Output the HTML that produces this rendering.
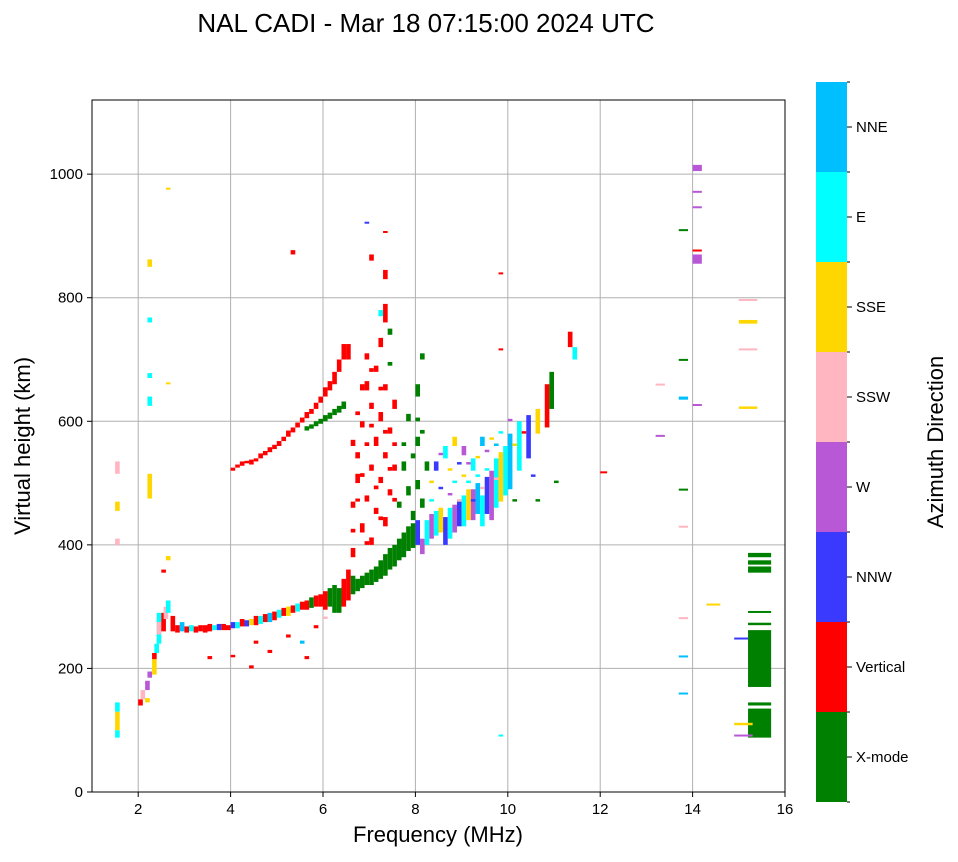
<!DOCTYPE html>
<html><head><meta charset="utf-8"><style>
body{margin:0;background:#fff;}
svg text{font-family:"Liberation Sans",sans-serif;fill:#000;}
</style></head><body>
<svg width="958" height="857" xmlns="http://www.w3.org/2000/svg" id="chart">
<text x="426" y="32" font-size="26" text-anchor="middle">NAL CADI - Mar 18 07:15:00 2024 UTC</text>
<g id="grid"></g>
<g id="marks"></g>
<rect x="92" y="100" width="693" height="692" fill="none" stroke="#000" stroke-width="1"/>
<g id="axes"></g>
<text x="438" y="842" font-size="22" text-anchor="middle">Frequency (MHz)</text>
<text transform="translate(30,446) rotate(-90)" font-size="22" text-anchor="middle">Virtual height (km)</text>
<g id="cbar"></g>
<text transform="translate(943,442) rotate(-90)" font-size="22" text-anchor="middle">Azimuth Direction</text>
</svg>
<script>
const colorNames=["X-mode","Vertical","NNW","W","SSW","SSE","E","NNE"];
const colorValues=["#008000","#ff0000","#3a3aff","#b858d6","#ffb6c1","#ffd700","#00ffff","#00bfff"];
const xTicks=[2,4,6,8,10,12,14,16];
const yTicks=[0,200,400,600,800,1000];
// echoes: [freq MHz, hLow km, hHigh km, colorIndex, widthMHz?]
const echoes=[
[1.5,88,100,6],[1.5,100,130,5],[1.5,130,145,6],[1.5,400,410,4],[1.5,455,470,5],[1.5,515,535,4],
[2.0,140,150,1],[2.05,150,165,4],[2.15,165,180,3],[2.15,145,152,5],[2.2,185,195,3],[2.3,190,215,5],[2.3,215,225,1],[2.35,225,240,6],[2.4,240,290,6],[2.4,255,275,4],[2.5,260,290,1],[2.55,280,300,4],[2.6,290,310,6],[2.7,260,285,1],[2.8,258,270,1],[2.9,260,275,7],[3.0,258,268,1],[3.1,260,270,6],[3.2,258,268,1],[3.3,260,270,1],[3.4,258,270,1],[3.5,260,272,1],[3.6,262,270,6],[3.7,262,272,2],[3.8,262,272,1],[3.9,262,270,1],[4.0,265,275,2],[4.1,265,275,6],[4.2,268,280,1],[4.3,268,278,2],[4.4,270,280,5],[4.5,270,285,1],[4.6,272,285,6],[4.7,275,288,1],[4.8,275,290,7],[4.9,278,292,1],[5.0,282,295,6],[5.1,285,298,1],[5.2,285,300,5],[5.3,290,302,1],[5.4,292,305,6],[5.5,295,308,1],[5.6,295,310,1],[5.7,298,315,0],[5.8,300,318,1],[5.9,300,320,1],[6.0,295,325,1],[6.1,300,330,0],[6.2,290,335,0],[6.3,290,330,0],[6.4,300,345,1],[6.5,310,360,1],[6.6,320,350,0],[6.7,325,345,0],[6.8,330,350,0],[6.9,335,355,0],[7.0,335,360,0],[7.1,340,365,0],[7.2,345,375,0],[7.3,350,385,0],[7.4,360,395,0],[7.5,365,400,0],[7.6,375,410,0],[7.7,380,420,0],[7.8,390,430,0],[7.9,395,435,0],[8.0,400,440,2],[8.1,385,410,3],[8.2,400,440,6],[8.3,410,450,3],[8.4,415,455,6],[8.5,420,460,5],[8.6,400,445,2],[8.7,410,460,6],[8.8,420,465,3],[8.9,430,470,2],[9.0,430,480,6],[9.1,440,490,5],[9.2,440,490,3],[9.3,450,500,7],[9.4,430,480,6],[9.5,450,510,2],[9.6,440,520,3],[9.7,460,540,6],[9.8,470,550,5],[9.9,480,560,6],[10.0,490,580,7],[10.2,520,600,6],[10.4,540,610,2],[10.6,580,620,5],[10.8,590,660,1],[10.9,620,680,0],[11.3,720,745,1],[11.4,700,720,6],
[8.6,540,560,6],[8.8,560,575,5],[9.0,545,560,3],[9.2,520,540,6],[9.4,560,575,7],[8.4,520,535,2],
[8.3,500,504,5],[8.3,470,474,6],[8.5,545,549,3],[8.5,490,494,2],[8.7,520,524,5],[8.7,480,484,3],[8.8,500,504,6],[8.9,530,534,2],[8.9,470,474,4],[9.0,510,514,5],[9.1,500,504,6],[9.1,530,534,3],[9.2,470,474,2],[9.3,540,544,5],[9.3,510,514,6],[9.4,490,494,4],[9.5,520,524,6],[9.5,550,554,3],[9.6,570,574,5],[9.7,560,564,7],[9.7,505,509,4],[9.8,580,584,6],[10.0,600,604,3],[10.1,560,564,5],[10.2,540,544,6],[10.3,580,584,1],[10.1,470,474,0],[10.6,470,474,0],[11.0,500,504,0],[10.5,510,514,2],
[4.0,520,525,1],[4.1,525,530,1],[4.2,528,535,1],[4.4,530,538,1],[4.6,540,548,1],[4.8,550,558,1],[5.0,560,568,1],[5.2,575,585,1],[5.4,590,598,1],[5.6,605,615,1],[5.8,620,630,1],[6.0,640,655,1],[6.2,660,680,1],[6.3,680,700,1],[6.4,700,725,1],[6.5,700,725,1],
[4.3,532,536,1],[4.5,535,540,1],[4.7,545,552,1],[4.9,555,562,1],[5.1,568,575,1],[5.3,582,590,1],[5.5,598,606,1],[5.7,612,620,1],[5.9,630,640,1],[6.1,650,665,1],
[5.6,585,592,0],[5.8,592,600,0],[6.0,600,610,0],[6.2,610,620,0],[6.4,620,632,0],[5.7,588,595,0],[5.9,596,604,0],[6.1,604,614,0],[6.3,614,625,0],
[6.6,380,395,1],[6.6,460,470,1],[6.7,500,515,1],[6.7,540,550,1],[6.8,420,435,1],[6.8,590,600,1],[6.9,470,480,1],[6.9,650,665,1],[6.9,700,710,1],[7.0,400,412,1],[7.0,520,530,1],[7.0,620,630,1],[7.0,860,870,1],[7.1,450,460,1],[7.1,560,575,1],[7.1,680,690,1],[7.2,500,510,1],[7.2,600,615,1],[7.2,720,735,1],[7.3,430,445,1],[7.3,540,550,1],[7.3,650,660,1],[7.3,760,790,1],[7.3,830,845,1],[7.4,480,490,1],[7.4,580,590,1],[7.5,520,530,1],[7.5,620,635,1],[6.6,560,570,1],[6.8,650,660,1],[7.2,770,780,6],[7.4,740,750,0],
[6.6,420,426,1],[6.7,470,475,1],[6.8,510,516,1],[6.9,560,566,1],[7.0,590,596,1],[7.1,490,496,1],[7.2,440,446,1],[7.3,580,586,1],[7.4,520,526,1],[7.5,560,566,1],[6.9,400,406,1],[7.0,680,686,1],[7.2,650,656,1],[7.4,690,696,0],[7.5,470,476,1],[6.7,610,616,1],
[7.6,460,470,0],[7.7,520,535,0],[7.8,480,495,0],[7.8,600,612,0],[7.9,440,455,0],[8.0,560,575,0],[8.0,640,660,0],[8.1,700,710,0],[8.0,490,505,0],[8.1,460,475,0],[8.2,520,535,0],[7.9,540,548,0],[8.0,600,606,0],[7.7,560,566,0],[8.1,580,586,0],
[4.5,240,245,1],[4.8,225,230,1],[5.2,250,255,1],[5.5,240,245,7],[5.8,265,270,1],[3.5,215,220,1],[4.0,218,222,1],[4.4,200,205,1],[5.6,215,220,1],[6.0,280,284,4],
[15.2,88,135,0,0.5],[15.2,170,262,0,0.5],[15.2,355,365,0,0.5],[15.2,368,375,0,0.5],[15.2,380,387,0,0.5],[15.2,290,293,0,0.5],[15.2,140,145,0,0.5],[15.2,270,274,0,0.5],
[14.9,90,93,3,0.4],[14.9,108,112,5,0.4],[15.0,620,624,5,0.4],[15.0,715,718,4,0.4],[15.0,758,764,5,0.4],[15.0,795,798,4,0.4],[14.9,247,250,2,0.3],[14.3,302,305,5,0.3],
[13.7,158,161,7,0.2],[13.7,218,221,7,0.2],[13.7,280,283,4,0.2],[13.7,428,431,4,0.2],[13.7,488,491,0,0.2],[13.7,635,640,7,0.2],[13.7,698,701,0,0.2],[13.7,908,911,0,0.2],[14.0,625,628,3,0.2],[14.0,855,870,3,0.2],[14.0,875,878,1,0.2],[14.0,945,948,3,0.2],[14.0,970,973,3,0.2],[14.0,1005,1015,3,0.2],[13.2,575,578,3,0.2],[13.2,658,661,4,0.2],[12.0,516,519,1,0.15],
[9.8,90,93,6],[9.8,838,841,1],[9.8,715,718,1],
[2.2,625,640,6],[2.2,670,678,6],[2.2,760,768,6],[2.2,850,862,5],[2.2,475,515,5],[2.6,975,978,5],[2.6,660,663,5],[2.6,375,382,5],[2.5,355,360,1],[5.3,870,877,1],[6.9,920,923,2],[7.3,905,908,1]
];
const NS="http://www.w3.org/2000/svg";
const X0=92,X1=785,Y0=792,Y1=100,FMIN=1,FMAX=16,HMIN=0,HMAX=1120;
function xs(f){return X0+(f-FMIN)/(FMAX-FMIN)*(X1-X0);}
function ys(h){return Y0-(h-HMIN)/(HMAX-HMIN)*(Y0-Y1);}
function mk(tag,attrs,parent){const e=document.createElementNS(NS,tag);for(const k in attrs)e.setAttribute(k,attrs[k]);parent.appendChild(e);return e;}
const grid=document.getElementById('grid'),axes=document.getElementById('axes'),marks=document.getElementById('marks'),cbar=document.getElementById('cbar');
xTicks.forEach(t=>{const x=xs(t);
 const g=mk('line',{x1:x,x2:x,y1:Y1,y2:Y0,stroke:'#b0b0b0','stroke-width':1},grid);
 
 mk('line',{x1:x,x2:x,y1:Y0,y2:Y0+5,stroke:'#000'},axes);
 const tx=mk('text',{x:x,y:Y0+22,'font-size':15,'text-anchor':'middle'},axes);tx.textContent=t;
 });
yTicks.forEach(t=>{const y=ys(t);
 const g=mk('line',{x1:X0,x2:X1,y1:y,y2:y,stroke:'#b0b0b0','stroke-width':1},grid);
 
 mk('line',{x1:X0-5,x2:X0,y1:y,y2:y,stroke:'#000'},axes);
 const tx=mk('text',{x:X0-9,y:y+5,'font-size':15,'text-anchor':'end'},axes);tx.textContent=t;
 });
echoes.forEach(e=>{const w=e[4]||0.1;const x=xs(e[0]),x2=xs(e[0]+w);const y=ys(e[2]),y2=ys(e[1]);
 const r=mk('rect',{x:x,y:y,width:Math.max(2,x2-x),height:Math.max(2,y2-y),fill:colorValues[e[3]]},marks);
 });
const CX=816,CW=31,CT=82,CB=802,n=colorNames.length,bh=(CB-CT)/n;
colorNames.forEach((nm,i)=>{const y=CB-(i+1)*bh;
 const r=mk('rect',{x:CX,y:y,width:CW,height:bh,fill:colorValues[i]},cbar);
 
 mk('line',{x1:CX+CW,x2:CX+CW+5,y1:y+bh/2,y2:y+bh/2,stroke:'#000'},cbar);
 mk('line',{x1:CX+CW,x2:CX+CW+3,y1:y,y2:y,stroke:'#000'},cbar);
 const tx=mk('text',{x:CX+CW+9,y:y+bh/2+5,'font-size':15},cbar);tx.textContent=nm;
 });
mk('line',{x1:CX+CW,x2:CX+CW+3,y1:CB,y2:CB,stroke:'#000'},cbar);
</script>
</body></html>
